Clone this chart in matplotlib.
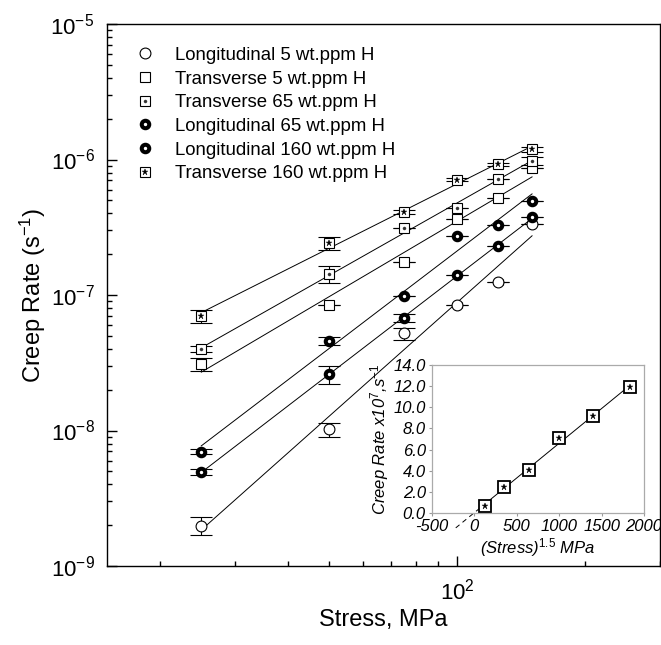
"""
Creep rate vs. stress for Zr alloy at several hydrogen levels,
log-log plot with power-law fits and a linear inset.
"""

import numpy as np
import matplotlib
matplotlib.use('Agg')
import matplotlib.pyplot as plt
from matplotlib.ticker import FixedLocator, NullFormatter, FuncFormatter, LogLocator
from matplotlib.lines import Line2D

plt.rcParams['font.family'] = ['Liberation Sans', 'DejaVu Sans']
plt.rcParams['mathtext.fontset'] = 'custom'
plt.rcParams['mathtext.rm'] = 'Liberation Sans'
plt.rcParams['mathtext.it'] = 'Liberation Sans:italic'
plt.rcParams['mathtext.default'] = 'regular'

# --- data (MPa, 1/s) ---
stress = np.array([25, 50, 75, 100, 125, 150])

rate_l5 = np.array([1.98e-9, 1.02e-8, 5.2e-8, 8.4e-8, 1.25e-7, 3.35e-7])
rate_t5 = np.array([3.1e-8, 8.5e-8, 1.76e-7, 3.62e-7, 5.2e-7, 8.6e-7])
rate_t65 = np.array([3.97e-8, 1.43e-7, 3.1e-7, 4.4e-7, 7.2e-7, 9.8e-7])
rate_l65 = np.array([4.92e-9, 2.61e-8, 6.8e-8, 1.41e-7, 2.3e-7, 3.75e-7])
rate_l160 = np.array([6.98e-9, 4.6e-8, 9.85e-8, 2.72e-7, 3.3e-7, 4.95e-7])
rate_t160 = np.array([7.0e-8, 2.42e-7, 4.1e-7, 7.1e-7, 9.2e-7, 1.19e-6])

yerr_l5 = np.array([0.3e-9, 0.12e-8, 0.55e-8, 0, 0, 0])
yerr_t5 = np.array([0.33e-8, 0, 0, 0, 0, 0])
yerr_t65 = np.array([0.2e-8, 0.2e-7, 0, 0, 0, 0.07e-6])
yerr_l65 = np.array([0.25e-9, 0.4e-8, 0.5e-8, 0, 0, 0])
yerr_l160 = np.array([0.3e-9, 0.3e-8, 0, 0, 0, 0])
yerr_t160 = np.array([0.75e-8, 0.28e-7, 0.15e-7, 0.2e-7, 0.2e-7, 0.05e-6])

xerr_l5 = np.array([0, 0, 0, 2.5, 3.0, 2.0])
xerr_t5 = np.array([0, 0, 1.5, 0, 0, 0])
xerr_t65 = np.array([0, 0, 1.5, 0, 0, 2.0])
xerr_t160 = np.array([0, 0, 0, 0, 0, 2.0])

labels = ['Longitudinal 5 wt.ppm H', 'Transverse 5 wt.ppm H',
          'Transverse 65 wt.ppm H', 'Longitudinal 65 wt.ppm H',
          'Longitudinal 160 wt.ppm H', 'Transverse 160 wt.ppm H']

inset_xticks = [-500, 0, 500, 1000, 1500, 2000]
inset_yticks = [0, 2, 4, 6, 8, 10, 12, 14]

# marker styles
ring = dict(marker='o', ms=5.4, mfc='white', mec='black', mew=2.9)
circle = dict(marker='o', ms=7.8, mfc='white', mec='black', mew=0.8)
square = dict(marker='s', ms=6.8, mfc='white', mec='black', mew=0.8)
dot_small = dict(marker='o', ms=2.2, mfc='#333333', mec='#333333', mew=0.3)
dot_star = dict(marker='*', ms=5, mfc='black', mec='black', mew=0.3)


def plot_series(ax, x, y, yerr, xerr, style, centre=None):
    ax.errorbar(x, y, yerr=yerr, fmt='none', ecolor='black',
                elinewidth=0.8, capsize=8, capthick=0.8, zorder=2)
    if xerr is not None:
        ax.errorbar(x, y, xerr=xerr, fmt='none', ecolor='black',
                    elinewidth=0.8, capsize=2, capthick=0.8, zorder=2)
    ax.plot(x, y, ls='none', zorder=3, **style)
    if centre is not None:
        ax.plot(x, y, ls='none', zorder=4, **centre)
    # power-law fit
    p = np.polyfit(np.log10(x), np.log10(y), 1)
    ax.plot(x, 10 ** np.polyval(p, np.log10(x)), color='black', lw=0.7, zorder=1)


def main():
    fig = plt.figure(figsize=(6.61, 6.45), dpi=100)
    ax = fig.add_axes([107 / 661, 1 - 566 / 645, 553 / 661, 542 / 645])

    series = [
        (rate_l5, yerr_l5, xerr_l5, circle, None),
        (rate_t5, yerr_t5, xerr_t5, square, None),
        (rate_t65, yerr_t65, xerr_t65, square, dot_small),
        (rate_l65, yerr_l65, None, ring, None),
        (rate_l160, yerr_l160, None, ring, None),
        (rate_t160, yerr_t160, xerr_t160, square, dot_star),
    ]
    handles = []
    for y, ye, xe, st, ce in series:
        plot_series(ax, stress, y, ye, xe, st, ce)
        h = Line2D([], [], ls='none', **st)
        if ce is not None:
            h = (h, Line2D([], [], ls='none', **ce))
        handles.append(h)

    ax.set_xscale('log')
    ax.set_yscale('log')
    ax.set_xlim(15, 300)
    ax.set_ylim(1e-9, 1e-5)

    pow_fmt = FuncFormatter(lambda v, p: r'10$^{%d}$' % round(np.log10(v)))
    ax.xaxis.set_major_locator(FixedLocator([100]))
    ax.xaxis.set_major_formatter(pow_fmt)
    ax.xaxis.set_minor_locator(LogLocator(base=10, subs=np.arange(2, 10)))
    ax.xaxis.set_minor_formatter(NullFormatter())
    ax.yaxis.set_major_locator(FixedLocator([1e-9, 1e-8, 1e-7, 1e-6, 1e-5]))
    ax.yaxis.set_major_formatter(pow_fmt)
    ax.yaxis.set_minor_locator(LogLocator(base=10, subs=np.arange(2, 10)))
    ax.yaxis.set_minor_formatter(NullFormatter())

    ax.tick_params(which='both', direction='in', top=False, right=False, width=1)
    ax.tick_params(which='major', length=7, labelsize=16, pad=9)
    ax.tick_params(which='minor', length=3.5)
    for s in ax.spines.values():
        s.set_linewidth(1.0)

    ax.set_xlabel('Stress, MPa', fontsize=17, labelpad=3)
    ax.set_ylabel(r'Creep Rate (s$^{-1}$)', fontsize=17, labelpad=2)

    ax.legend(handles, labels, loc='upper left', bbox_to_anchor=(0.052, 0.958),
              frameon=False, fontsize=13.4, handlelength=1.0, handletextpad=1.1,
              labelspacing=0.36, borderpad=0, borderaxespad=0)

    # --- inset: linear creep rate vs stress^1.5 ---
    ax_in = fig.add_axes([432 / 661, 1 - 513 / 645, 212 / 661, 148 / 645])
    ax_in.set_zorder(5)
    s15 = stress ** 1.5
    r7 = rate_t160 * 1e7
    k = np.polyfit(s15, r7, 1)
    xs = np.array([s15[0], s15[-1]])
    ax_in.plot(xs, np.polyval(k, xs), color='black', lw=0.7, zorder=1)
    xd = np.array([-220, s15[0]])
    ax_in.plot(xd, np.polyval(k, xd), color='black', lw=0.7, ls=(0, (5, 4)),
               clip_on=False, zorder=1)
    ax_in.plot(s15, r7, ls='none', zorder=3, marker='s', ms=8, mfc='white',
               mec='black', mew=1.3)
    ax_in.plot(s15, r7, ls='none', zorder=4, marker='*', ms=5, mfc='black',
               mec='black', mew=0.3)

    ax_in.set_xlim(-500, 2000)
    ax_in.set_ylim(0, 14)
    ax_in.set_xticks(inset_xticks)
    ax_in.set_yticks(inset_yticks)
    ax_in.set_xticklabels([str(v) for v in inset_xticks], style='italic')
    ax_in.set_yticklabels(['%.1f' % v for v in inset_yticks], style='italic')
    ax_in.tick_params(labelsize=12, length=2.5, color='#999999', pad=2)
    for s in ax_in.spines.values():
        s.set_color('#aaaaaa')
        s.set_linewidth(0.9)
    ax_in.set_xlabel(r'(Stress)$^{\mathit{1.5}}$ MPa', fontsize=12,
                     style='italic', labelpad=1)
    ax_in.set_ylabel(r'Creep Rate x10$^{\mathit{7}}$,s$^{\mathit{-1}}$', fontsize=12,
                     style='italic', labelpad=2)

    fig.savefig('out.png', dpi=100)


if __name__ == '__main__':
    main()
